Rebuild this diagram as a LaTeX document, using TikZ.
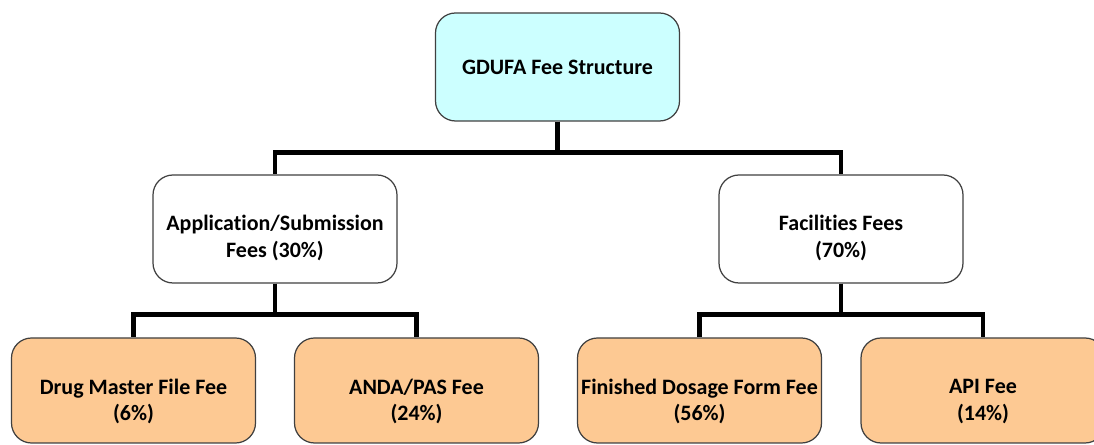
\documentclass[tikz,border=0pt]{standalone}
\usepackage{fontspec}
\setmainfont{Carlito}[Ligatures=NoCommon]
\usetikzlibrary{positioning}

\definecolor{topfill}{HTML}{CCFFFF}
\definecolor{leaffill}{HTML}{FDC993}
\definecolor{boxline}{HTML}{404040}

\begin{document}
\begin{tikzpicture}[
    box/.style={draw=boxline, line width=0.7pt, rounded corners=0.4cm,
        minimum width=4.88cm, minimum height=2.16cm},
    txt/.style={align=center, font=\fontsize{12.5}{15.3}\selectfont\bfseries},
    mid/.style={box, fill=white},
    leaf/.style={box, fill=leaffill, minimum height=2.1cm},
    conn/.style={line width=2.8pt}
]
    \useasboundingbox (0,0) rectangle (21.88,8.9);

    % Top of the tree
    \node[box, fill=topfill, label={[txt]center:GDUFA Fee Structure}] (gdufa) at (11.15,7.56) {};

    % Second level (text sits a bit low in the boxes)
    \node[mid, label={[txt, yshift=-0.18cm]center:{Application/Submission\\Fees (30\%)}}] (appl) at (5.5,4.32) {};
    \node[mid, label={[txt, yshift=-0.18cm]center:{Facilities Fees\\(70\%)}}] (fac) at (16.82,4.32) {};

    % Leaves
    \node[leaf, label={[txt, yshift=-0.22cm]center:{Drug Master File Fee\\(6\%)}}] (dmf) at (2.67,1.09) {};
    \node[leaf, label={[txt, yshift=-0.22cm]center:{ANDA/PAS Fee\\(24\%)}}] (anda) at (8.33,1.09) {};
    \node[leaf, label={[txt, yshift=-0.22cm]center:{Finished Dosage Form Fee\\(56\%)}}] (fdf) at (13.99,1.09) {};
    \node[leaf, label={[txt, yshift=-0.22cm]center:{API Fee\\(14\%)}}] (api) at (19.66,1.09) {};

    % Connectors
    \draw[conn] (gdufa.south) -- ++(0,-0.62) -| (appl.north);
    \draw[conn] (gdufa.south) -- ++(0,-0.62) -| (fac.north);
    \draw[conn] (appl.south) -- ++(0,-0.62) -| (dmf.north);
    \draw[conn] (appl.south) -- ++(0,-0.62) -| (anda.north);
    \draw[conn] (fac.south) -- ++(0,-0.62) -| (fdf.north);
    \draw[conn] (fac.south) -- ++(0,-0.62) -| (api.north);
\end{tikzpicture}
\end{document}
